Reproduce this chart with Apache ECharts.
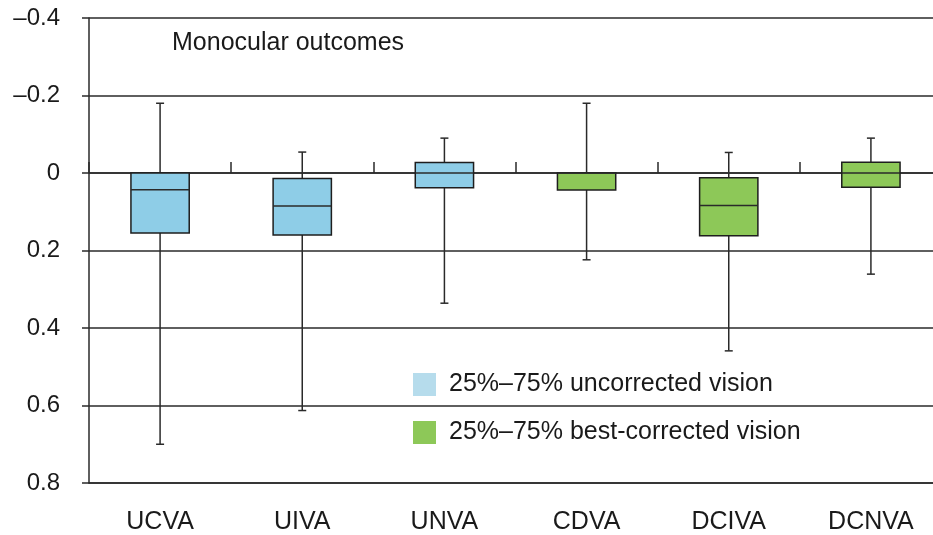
<!DOCTYPE html>
<html>
<head>
<meta charset="utf-8">
<script src="https://cdn.jsdelivr.net/npm/echarts@6/dist/echarts.min.js"></script>
<style>
  html, body { margin: 0; padding: 0; background: #fff; }
  #main { width: 933px; height: 535px; }
</style>
</head>
<body>
<div id="main"></div>
<script>
// categories and box values: [category, low, q1, median, q3, high]
var categories = ['UCVA', 'UIVA', 'UNVA', 'CDVA', 'DCIVA', 'DCNVA'];
var uncorrected = [
  [0, 0.70, 0.155, 0.043, 0.0, -0.18],
  [1, 0.613, 0.16, 0.085, 0.014, -0.054],
  [2, 0.336, 0.038, 0.0, -0.027, -0.09]
];
var bestCorrected = [
  [3, 0.224, 0.044, 0.0, 0.0, -0.18],
  [4, 0.459, 0.162, 0.084, 0.012, -0.053],
  [5, 0.261, 0.037, 0.0, -0.028, -0.09]
];
var yTicks = [-0.4, -0.2, 0, 0.2, 0.4, 0.6, 0.8];

var fontFam = 'Liberation Sans, Arial, sans-serif';

function renderBox(params, api) {
  var x = api.value(0);
  var pLow = api.coord([x, api.value(1)]);
  var pQ1 = api.coord([x, api.value(2)]);
  var pMed = api.coord([x, api.value(3)]);
  var pQ3 = api.coord([x, api.value(4)]);
  var pHigh = api.coord([x, api.value(5)]);
  var w = api.size([1, 0])[0] * 0.41;
  var cx = pMed[0];
  var cap = 4;
  var lineStyle = { stroke: '#2a2a2a', lineWidth: 1.5 };
  var top = Math.min(pQ1[1], pQ3[1]);
  var h = Math.abs(pQ1[1] - pQ3[1]);
  return {
    type: 'group',
    children: [
      { type: 'line', shape: { x1: cx, y1: pLow[1], x2: cx, y2: pHigh[1] }, style: lineStyle },
      { type: 'line', shape: { x1: cx - cap, y1: pLow[1], x2: cx + cap, y2: pLow[1] }, style: lineStyle },
      { type: 'line', shape: { x1: cx - cap, y1: pHigh[1], x2: cx + cap, y2: pHigh[1] }, style: lineStyle },
      { type: 'rect', shape: { x: cx - w / 2, y: top, width: w, height: h },
        style: { fill: api.visual('color'), stroke: '#1e1e1e', lineWidth: 1.5 } },
      { type: 'line', shape: { x1: cx - w / 2, y1: pMed[1], x2: cx + w / 2, y2: pMed[1] }, style: lineStyle }
    ]
  };
}

var chart = echarts.init(document.getElementById('main'));

var option = {
  animation: false,
  backgroundColor: '#fff',
  title: {
    text: 'Monocular outcomes',
    left: 167, top: 26,
    textStyle: { fontFamily: fontFam, fontSize: 25, fontWeight: 'normal', color: '#1a1a1a' }
  },
  legend: {
    orient: 'vertical',
    left: 408, top: 367,
    icon: 'rect',
    itemWidth: 23, itemHeight: 23, itemGap: 23,
    textStyle: { fontFamily: fontFam, fontSize: 25, color: '#1a1a1a', padding: [0, 0, 0, 8] },
    data: [
      { name: '25%\u201375% uncorrected vision', itemStyle: { color: '#b6dcec' } },
      { name: '25%\u201375% best-corrected vision', itemStyle: { color: '#8dc858' } }
    ]
  },
  // plot runs a little past the right edge of the picture
  grid: { left: 89, width: 853, top: 18, bottom: 52, outerBoundsMode: 'none' },
  xAxis: [
    {
      // ticks sitting on the zero line
      type: 'category',
      data: categories,
      position: 'bottom',
      axisLine: { onZero: true, lineStyle: { color: '#2a2a2a', width: 1.5 } },
      axisTick: { show: true, inside: true, length: 11, lineStyle: { color: '#2a2a2a', width: 1.5 } },
      axisLabel: { show: false },
      splitLine: { show: false }
    },
    {
      // category labels along the bottom
      type: 'category',
      data: categories,
      position: 'bottom',
      axisLine: { onZero: false, lineStyle: { color: '#2a2a2a', width: 1.5 } },
      axisTick: { show: false },
      axisLabel: { margin: 27, fontFamily: fontFam, fontSize: 25, color: '#1a1a1a' },
      splitLine: { show: false }
    }
  ],
  yAxis: {
    type: 'value',
    inverse: true,
    min: yTicks[0],
    max: yTicks[yTicks.length - 1],
    interval: 0.2,
    axisLine: { show: true, onZero: false, lineStyle: { color: '#2a2a2a', width: 1.5 } },
    axisTick: { show: true, length: 7, lineStyle: { color: '#2a2a2a', width: 1.5 } },
    splitLine: { show: true, lineStyle: { color: '#2a2a2a', width: 1.5 } },
    axisLabel: {
      margin: 29,
      fontFamily: fontFam, fontSize: 24, color: '#1a1a1a',
      formatter: function (v) {
        var r = Math.round(v * 10) / 10;
        if (r === 0) return '0';
        var s = Math.abs(r).toFixed(1);
        return r < 0 ? '\u2013' + s : s;
      }
    }
  },
  series: [
    {
      name: '25%\u201375% uncorrected vision',
      type: 'custom',
      renderItem: renderBox,
      itemStyle: { color: '#8ecde7' },
      encode: { x: 0, y: [1, 2, 3, 4, 5] },
      data: uncorrected,
      z: 3
    },
    {
      name: '25%\u201375% best-corrected vision',
      type: 'custom',
      renderItem: renderBox,
      itemStyle: { color: '#8dc858' },
      encode: { x: 0, y: [1, 2, 3, 4, 5] },
      data: bestCorrected,
      z: 3
    },
    {
      // empty series so the label axis is in use
      type: 'custom',
      xAxisIndex: 1,
      renderItem: renderBox,
      data: []
    }
  ]
};

chart.setOption(option);
</script>
</body>
</html>
